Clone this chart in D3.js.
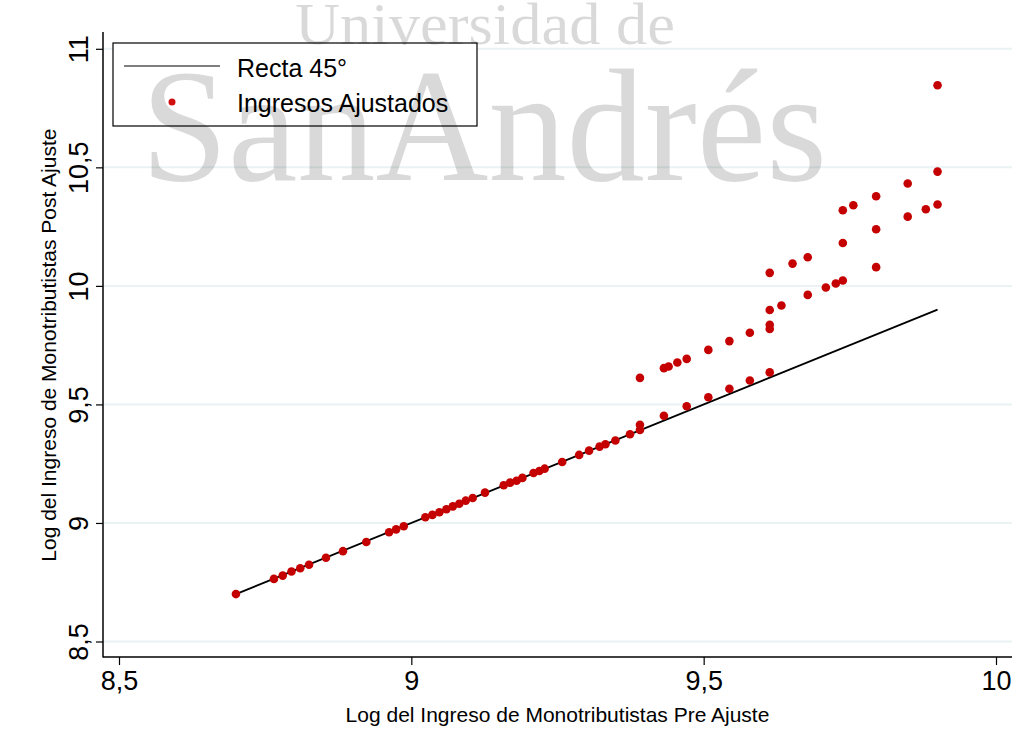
<!DOCTYPE html>
<html>
<head>
<meta charset="utf-8">
<script src="https://cdn.jsdelivr.net/npm/d3@7"></script>
<style>
  body { margin: 0; background: #fff; }
  svg { display: block; }
</style>
</head>
<body>
<script>
// tick values and labels
const xTicks = [8.5, 9, 9.5, 10];
const yTicks = [8.5, 9, 9.5, 10, 10.5, 11];
const fmt = d => String(d).replace(".", ",");

// 45 degree reference line
const lineX = [8.7, 9.9];

// ingresos ajustados (pre ajuste, post ajuste)
const preAjuste = [
  8.700, 8.765, 8.780, 8.795, 8.810, 8.825, 8.854, 8.883, 8.923, 8.962,
  8.974, 8.987, 9.024, 9.036, 9.048, 9.060, 9.071, 9.082, 9.093, 9.105,
  9.126, 9.158, 9.169, 9.180, 9.190, 9.209, 9.219, 9.228, 9.258, 9.287,
  9.304, 9.322, 9.332, 9.349, 9.374, 9.391, 9.391,
  9.432, 9.471, 9.508, 9.544, 9.579, 9.613,
  9.391, 9.432, 9.440, 9.455, 9.471, 9.508, 9.544, 9.579, 9.613, 9.613,
  9.613, 9.633, 9.613, 9.652, 9.678, 9.678, 9.709, 9.726, 9.738, 9.738,
  9.795, 9.795, 9.795, 9.738, 9.756, 9.849, 9.849, 9.880, 9.900, 9.900,
  9.900
];
const postAjuste = [
  8.700, 8.764, 8.778, 8.795, 8.809, 8.824, 8.853, 8.881, 8.920, 8.961,
  8.973, 8.986, 9.024, 9.034, 9.045, 9.058, 9.070, 9.081, 9.094, 9.105,
  9.128, 9.159, 9.170, 9.178, 9.190, 9.211, 9.219, 9.229, 9.257, 9.287,
  9.305, 9.322, 9.332, 9.348, 9.374, 9.392, 9.414,
  9.452, 9.492, 9.530, 9.566, 9.601, 9.635,
  9.612, 9.653, 9.660, 9.677, 9.692, 9.730, 9.767, 9.802, 9.818, 9.836,
  9.898, 9.917, 10.055, 10.094, 10.121, 9.962, 9.993, 10.010, 10.023, 10.181,
  10.079, 10.239, 10.378, 10.319, 10.340, 10.432, 10.292, 10.323, 10.343, 10.482,
  10.846
];

const W = 1032, H = 749;
const plot = { left: 103, right: 1012, top: 32, bottom: 657 };
const sans = "Liberation Sans, Arial, sans-serif";
const serif = "Liberation Serif, Times New Roman, serif";

const svg = d3.select("body").append("svg")
  .attr("width", W).attr("height", H)
  .style("font-family", sans);

const x = d3.scaleLinear().domain([8.5, 10]).range([119, 996]);
const y = d3.scaleLinear().domain([8.5, 11]).range([641.5, 48.8]);

// gridlines
svg.append("g").selectAll("line")
  .data(yTicks)
  .enter().append("line")
  .attr("x1", plot.left + 1).attr("x2", plot.right)
  .attr("y1", d => y(d)).attr("y2", d => y(d))
  .attr("stroke", "#eaf2f3").attr("stroke-width", 2);

// axes
const xAxis = svg.append("g")
  .attr("transform", `translate(0,${plot.bottom})`)
  .call(d3.axisBottom(x).tickValues(xTicks).tickFormat(fmt).tickSize(8).tickPadding(6));
xAxis.select(".domain").remove();
xAxis.selectAll("line").attr("stroke", "#000").attr("stroke-width", 1.2);
xAxis.selectAll("text")
  .style("font-size", "27px").style("font-family", sans).attr("fill", "#000");

const yAxis = svg.append("g")
  .attr("transform", `translate(${plot.left},0)`)
  .call(d3.axisLeft(y).tickValues(yTicks).tickFormat(fmt).tickSize(7));
yAxis.select(".domain").remove();
yAxis.selectAll("line").attr("stroke", "#000").attr("stroke-width", 1.2);
yAxis.selectAll("text")
  .attr("transform", "rotate(-90)")
  .attr("x", 0).attr("y", -15).attr("dy", 0)
  .attr("text-anchor", "middle")
  .style("font-size", "27px").style("font-family", sans).attr("fill", "#000");

svg.append("line")
  .attr("x1", plot.left).attr("x2", plot.left)
  .attr("y1", plot.top).attr("y2", plot.bottom + 0.5)
  .attr("stroke", "#000").attr("stroke-width", 1.5);
svg.append("line")
  .attr("x1", plot.left).attr("x2", plot.right)
  .attr("y1", plot.bottom).attr("y2", plot.bottom)
  .attr("stroke", "#000").attr("stroke-width", 1.5);

// axis titles
svg.append("text")
  .attr("x", (x(8.5) + x(10)) / 2).attr("y", 722)
  .attr("text-anchor", "middle").style("font-size", "21px")
  .text("Log del Ingreso de Monotributistas Pre Ajuste");
svg.append("text")
  .attr("transform", `translate(56,${(y(8.5) + y(11)) / 2}) rotate(-90)`)
  .attr("text-anchor", "middle").style("font-size", "21px")
  .text("Log del Ingreso de Monotributistas Post Ajuste");

// 45 degree line
svg.append("line")
  .attr("x1", x(lineX[0])).attr("y1", y(lineX[0]))
  .attr("x2", x(lineX[1])).attr("y2", y(lineX[1]))
  .attr("stroke", "#000").attr("stroke-width", 1.8);

// points
svg.append("g").selectAll("circle")
  .data(preAjuste.map((d, i) => [d, postAjuste[i]]))
  .enter().append("circle")
  .attr("cx", d => x(d[0])).attr("cy", d => y(d[1]))
  .attr("r", 4.3)
  .attr("fill", "#c40000");

// legend
const lg = svg.append("g");
lg.append("rect")
  .attr("x", 113).attr("y", 43).attr("width", 364).attr("height", 83)
  .attr("fill", "#fff").attr("stroke", "#000").attr("stroke-width", 1.2);
lg.append("line")
  .attr("x1", 124).attr("x2", 220).attr("y1", 66).attr("y2", 66)
  .attr("stroke", "#000").attr("stroke-width", 1.2);
lg.append("circle")
  .attr("cx", 172).attr("cy", 102).attr("r", 3.5).attr("fill", "#d01010");
lg.append("text").attr("x", 237).attr("y", 77).style("font-size", "25px").text("Recta 45°");
lg.append("text").attr("x", 237).attr("y", 112).style("font-size", "25px").text("Ingresos Ajustados");

// watermark
const wm = svg.append("g")
  .attr("fill", "#000").attr("fill-opacity", 0.15)
  .style("font-family", serif);
wm.append("text")
  .attr("x", 295).attr("y", 44).style("font-size", "60px")
  .attr("textLength", 380).attr("lengthAdjust", "spacingAndGlyphs")
  .text("Universidad de");
wm.append("text")
  .attr("x", 141).attr("y", 180).style("font-size", "160px")
  .attr("textLength", 686).attr("lengthAdjust", "spacingAndGlyphs")
  .text("SanAndrés");
</script>
</body>
</html>
